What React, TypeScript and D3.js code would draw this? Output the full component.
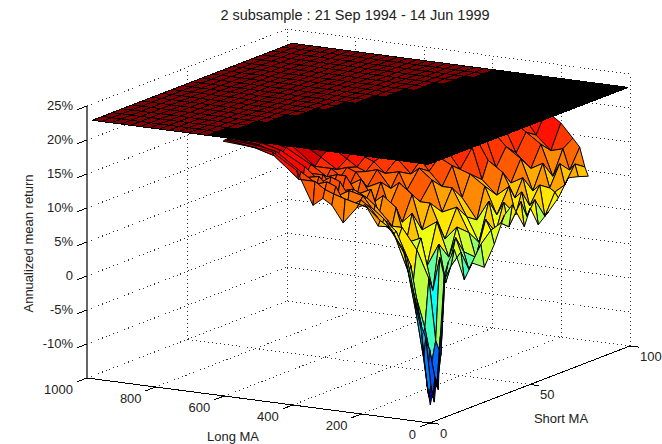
import React from "react";
import * as d3 from "d3";

const title = "2 subsample : 21 Sep 1994 - 14 Jun 1999";

// axis ticks
const longTicks = [0, 200, 400, 600, 800, 1000];
const shortTicks = [0, 50, 100];
const returnTicks = [25, 20, 15, 10, 5, 0, -5, -10];
const returnFloor = -15;

// flat benchmark plane sitting on top of the surface
const planeReturn = 23;
const planeLong = d3.range(5, 986, 28);
const planeShort = d3.range(0, 101, 5);
const denseEdgeShort = [0, 100];
const denseEdgeLong = [665, 390];

// mean return surface, rows follow longMA, each row runs along shortMA
// rows stop where the surface disappears under the plane
const longMA = [5, 15, 30, 50, 85, 128, 157, 195, 219, 259, 292, 318, 347, 394, 466, 522, 609];
const shortMA = [1, 2, 3, 4, 5, 6, 8, 10, 13, 18, 22, 28, 33, 38, 42, 48, 51, 55, 60, 65, 70, 75, 80];
const meanReturn = [
  [-12.5, -11.1, -12.3, -9.1, -10.7, -3, 5.8, 7.5, 9, 4, 6, 4.7, 7.5, 11.2, 12.3, 8.4, 10.8, 7.9, 9.2, 10.7, 13.1, 12.7, 12.2],
  [-9.5, -11.5, -10, -11.8, -9, -10.5, -6, 5, 6.5, 8, 5, 8, 9.5, 10, 9, 12, 9.5, 11.5, 8.5, 11.5, 12, 14.5, 13.5],
  [-2, -6, -3, -8.5, -5, -7, -4, 8, 4, 10, 7.5, 6, 11, 8.5, 12.5, 10, 13, 10.5, 13, 12, 15, 13.5, 16.3],
  [2.5, 0, -0.5, -1, -3, -2, 5, 3, 9.5, 7, 11, 9.5, 7.5, 13, 10.5, 14, 12, 14.5, 12, 15.5, 13, 16.5, 17.5],
  [10, 9, 8.5, 6, 7, 4, 9, 10.5, 6, 12, 9, 13, 11, 10, 14.5, 12.5, 15.5, 13.5, 16.5, 14.5, 17.5, 16, 19.5],
  [12.9, 12.6, 12, 11.5, 11.8, 10.6, 12, 9.5, 13.5, 10.5, 14, 12, 15, 13, 16, 14.5, 17, 15.5, 18, 16.5, 19, 18, 21],
  [12.8, 13.5, 13, 13.5, 13, 13, 12, 14.5, 12, 15.5, 14, 16.5, 15, 17.5, 16.5, 19, 19.5, 19.5, 19.5, 19.5, 20, 20, 21],
  [15.7, 15.2, 15.2, 15, 14, 15, 13.5, 16, 14, 17, 15.5, 18, 17, 18.5, 19, 20, 21],
  [15.1, 15.5, 16, 16.5, 16, 16, 17, 15, 17.5, 16, 18, 17, 18.5, 19.5, 21],
  [12.6, 16, 14.5, 17, 15.5, 17, 16, 18, 16.5, 18.5, 17.5, 19, 19.5, 21],
  [15, 16.5, 17.5, 16, 18, 16.5, 18.5, 17, 18.5, 18, 19, 19.5, 21],
  [15.8, 17, 18, 17, 18.5, 17, 18.5, 18, 19, 18.5, 19.5, 21],
  [14.6, 18, 17.5, 18.5, 17.5, 18.5, 18, 19, 18.5, 19.5, 21],
  [19.4, 18, 19, 18, 19.5, 18.5, 19.5, 19, 20, 21, 22],
  [21.7, 21, 21.5, 21, 21.5, 21, 21.5, 21.8, 22.2, 22.5],
  [22, 21.8, 22, 22, 22.2, 22, 22.2, 22.4],
  [22.3, 22.4, 22.4, 22.5, 22.5, 22.6],
];

// jet colours and the return each one sits at
const jetStops = ["#000090", "#0000ff", "#00ffff", "#ffff00", "#ff0000", "#800000"];
const jetReturn = [-14, -9, 3, 11, 21.8, 23];

const width = 662;
const height = 444;

// the view is an orthographic MATLAB one, so each axis moves the pixel linearly
const longX = d3.scaleLinear().domain([0, 1000]).range([0, -343]);
const longY = d3.scaleLinear().domain([0, 1000]).range([0, -45]);
const shortX = d3.scaleLinear().domain([0, 100]).range([0, 200]);
const shortY = d3.scaleLinear().domain([0, 100]).range([0, -77]);
const returnY = d3.scaleLinear().domain([returnFloor, 25]).range([0, -272]);

const originX = 430;
const originY = 423;

const project = (l: number, s: number, r: number): [number, number] => [
  originX + longX(l) + shortX(s),
  originY + longY(l) + shortY(s) + returnY(r),
];

const lineGen = d3.line();

const seg = (a: [number, number, number], b: [number, number, number]) =>
  lineGen([project(...a), project(...b)]) as string;

const quad = (corners: [number, number, number][]) =>
  (lineGen(corners.map(c => project(...c))) as string) + "Z";

const jet = d3.scaleLinear<string>().domain(jetReturn).range(jetStops).clamp(true);

const denseEdge = d3.scaleLinear().domain(denseEdgeShort).range(denseEdgeLong);

function surfaceCells() {
  const cells: { d: string; fill: string }[] = [];
  // back to front, far rows first so nearer facets cover them
  for (let i = longMA.length - 2; i >= 0; i--) {
    const near = meanReturn[i];
    const far = meanReturn[i + 1];
    for (let j = far.length - 2; j >= 0; j--) {
      cells.push({
        d: quad([
          [longMA[i], shortMA[j], near[j]],
          [longMA[i + 1], shortMA[j], far[j]],
          [longMA[i + 1], shortMA[j + 1], far[j + 1]],
          [longMA[i], shortMA[j + 1], near[j + 1]],
        ]),
        fill: jet(far[j + 1]),
      });
    }
  }
  return cells;
}

function planeCells() {
  const cells: { d: string; dense: boolean }[] = [];
  for (let i = 0; i < planeLong.length - 1; i++) {
    for (let j = 0; j < planeShort.length - 1; j++) {
      const l0 = planeLong[i];
      const l1 = planeLong[i + 1];
      const s0 = planeShort[j];
      const s1 = planeShort[j + 1];
      cells.push({
        d: quad([
          [l0, s0, planeReturn],
          [l1, s0, planeReturn],
          [l1, s1, planeReturn],
          [l0, s1, planeReturn],
        ]),
        dense: (l0 + l1) / 2 < denseEdge((s0 + s1) / 2),
      });
    }
  }
  return cells;
}

const gridStyle = {
  stroke: "#333",
  strokeWidth: 1,
  strokeDasharray: "1 3",
  fill: "none",
  shapeRendering: "crispEdges" as const,
};

export default function App() {
  const textStyle = { fontFamily: "Liberation Sans, Arial, sans-serif", fontSize: 13, fill: "#222" };
  const topR = 25;

  const gridLines: string[] = [];
  // walls: constant return lines
  returnTicks.forEach(r => {
    gridLines.push(seg([1000, 0, r], [1000, 100, r]));
    gridLines.push(seg([1000, 100, r], [0, 100, r]));
  });
  // walls and floor along each long tick
  longTicks.forEach(l => {
    gridLines.push(seg([l, 100, returnFloor], [l, 100, topR]));
    if (l > 0 && l < 1000) gridLines.push(seg([l, 0, returnFloor], [l, 100, returnFloor]));
  });
  // walls and floor along each short tick
  shortTicks.forEach(s => {
    if (s > 0) gridLines.push(seg([1000, s, returnFloor], [1000, s, topR]));
    if (s > 0) gridLines.push(seg([0, s, returnFloor], [1000, s, returnFloor]));
  });
  gridLines.push(seg([1000, 0, returnFloor], [1000, 100, returnFloor]));

  const leftTop = project(1000, 0, topR);

  return (
    <svg
      width={width}
      height={height}
      style={{ position: "absolute", left: 0, top: 0, background: "#fff" }}
    >
      <text x={355} y={20} textAnchor="middle" style={{ ...textStyle, fontSize: 14.5 }}>
        {title}
      </text>

      {gridLines.map((d, i) => (
        <path key={i} d={d} style={gridStyle} />
      ))}

      {/* visible axes */}
      <g stroke="#000" strokeWidth={1} fill="none" shapeRendering="crispEdges">
        <path d={seg([1000, 0, returnFloor], [1000, 0, topR])} stroke="#666" strokeWidth={2} />
        <path d={seg([0, 0, returnFloor], [1000, 0, returnFloor])} />
        <path d={seg([0, 0, returnFloor], [0, 100, returnFloor])} />
        {returnTicks.map(r => (
          <path key={r} d={seg([1000, 0, r], [1000, -5, r])} />
        ))}
        {longTicks.map(l => (
          <path key={l} d={seg([l, 0, returnFloor], [l, -5, returnFloor])} />
        ))}
        {shortTicks.map(s => (
          <path key={s} d={seg([0, s, returnFloor], [-25, s, returnFloor])} />
        ))}
      </g>

      {returnTicks.map(r => (
        <text
          key={r}
          x={leftTop[0] - 14}
          y={project(1000, 0, r)[1] + 3.5}
          textAnchor="end"
          style={textStyle}
        >
          {r === 0 ? "0" : `${r}%`}
        </text>
      ))}
      {longTicks.map(l => {
        const [x, y] = project(l, 0, returnFloor);
        return (
          <text key={l} x={x - 14} y={y + 16} textAnchor="end" style={textStyle}>
            {l}
          </text>
        );
      })}
      {shortTicks.map(s => {
        const [x, y] = project(0, s, returnFloor);
        return (
          <text key={s} x={x + 10} y={y + 14.5} style={textStyle}>
            {s}
          </text>
        );
      })}
      <text x={233} y={440.5} textAnchor="middle" style={textStyle}>
        Long MA
      </text>
      <text x={561} y={422.5} textAnchor="middle" style={textStyle}>
        Short MA
      </text>
      <text transform="translate(33, 243.5) rotate(-90)" textAnchor="middle" style={textStyle}>
        Annualized mean return
      </text>

      <g stroke="#000" strokeWidth={1} strokeLinejoin="round">
        {surfaceCells().map((c, i) => (
          <path key={i} d={c.d} fill={c.fill} />
        ))}
      </g>
      <g stroke="#000" strokeWidth={1} shapeRendering="crispEdges">
        {planeCells().map((c, i) => (
          <path key={i} d={c.d} fill={c.dense ? "#000" : "#800000"} />
        ))}
      </g>
    </svg>
  );
}
